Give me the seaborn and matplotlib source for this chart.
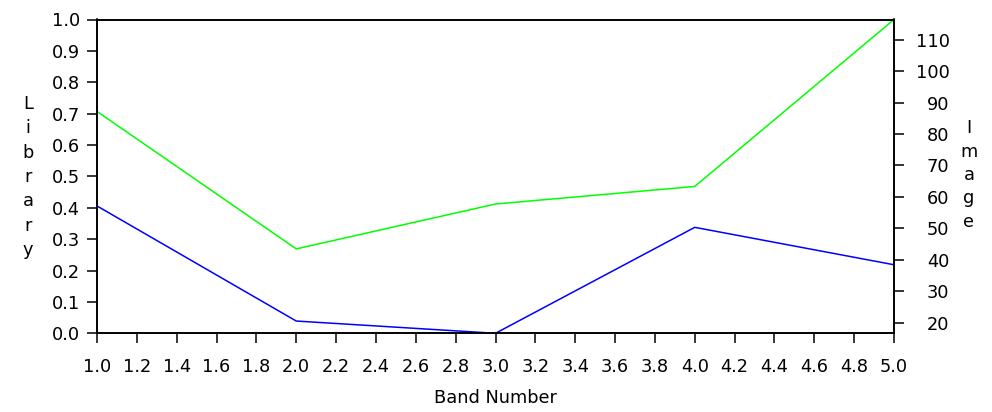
import matplotlib
matplotlib.use("Agg")
import matplotlib.pyplot as plt
import seaborn as sns
import numpy as np
import pandas as pd

bands = [1.0, 2.0, 3.0, 4.0, 5.0]
library_vals = [0.707, 0.269, 0.412, 0.468, 1.0]
image_vals = [57.1, 20.5, 16.6, 50.3, 38.4]
x_ticks = [1.0, 1.2, 1.4, 1.6, 1.8, 2.0, 2.2, 2.4, 2.6, 2.8, 3.0, 3.2, 3.4, 3.6, 3.8, 4.0, 4.2, 4.4, 4.6, 4.8, 5.0]
left_ticks = [0.0, 0.1, 0.2, 0.3, 0.4, 0.5, 0.6, 0.7, 0.8, 0.9, 1.0]
right_ticks = [20, 30, 40, 50, 60, 70, 80, 90, 100, 110]

sns.set_style("ticks")
plt.rcParams['font.family'] = ['DejaVu Sans']
plt.rcParams['text.color'] = 'black'
plt.rcParams['axes.labelcolor'] = 'black'
plt.rcParams['xtick.color'] = 'black'
plt.rcParams['ytick.color'] = 'black'

fig = plt.figure(figsize=(9.92, 4.12), dpi=100)
ax = fig.add_axes([97/992, 1 - 333.3/412, (894-97)/992, (333.3-19.5)/412])
ax2 = ax.twinx()

df = pd.DataFrame({"band": bands, "library": library_vals, "image": image_vals})
sns.lineplot(data=df, x="band", y="library", ax=ax, color="#00ff00", linewidth=1.1)
sns.lineplot(data=df, x="band", y="image", ax=ax2, color="#0000ff", linewidth=1.1)

ax.set_xlim(1.0, 5.0)
ax.set_ylim(0.0, 1.0)
ax2.set_ylim(16.6, 116.4)

fs = 12.8
ax.tick_params(axis="both", direction="out", length=7, width=1.1, color="black", labelcolor="black")
ax.tick_params(axis="y", pad=5)
ax.tick_params(axis="x", pad=11)
ax2.tick_params(axis="y", direction="out", length=7, width=1.1, color="black", labelcolor="black", pad=33)

ax.set_xticks(x_ticks)
ax.set_xticklabels([f"{t:.1f}" for t in x_ticks], fontsize=fs)
ax.set_yticks(left_ticks)
ax.set_yticklabels([f"{t:.1f}" for t in left_ticks], fontsize=fs)
ax2.set_yticks(right_ticks)
ax2.set_yticklabels([str(t) for t in right_ticks], fontsize=fs, ha="right")

for a in (ax, ax2):
    for s in a.spines.values():
        s.set_visible(True)
        s.set_color("black")
        s.set_linewidth(1.2)

ax.set_xlabel("Band Number", fontsize=fs, labelpad=9, color="black")
ax.set_ylabel("")
ax2.set_ylabel("")

fig.text(28/992, 1 - 177/412, "L\ni\nb\nr\na\nr\ny", ha="center", va="center",
         fontsize=fs, linespacing=1.45, color="black")
fig.text(969/992, 1 - 175/412, "I\nm\na\ng\ne", ha="center", va="center",
         fontsize=fs, linespacing=1.38, color="black")

fig.savefig("out.png", dpi=100)
